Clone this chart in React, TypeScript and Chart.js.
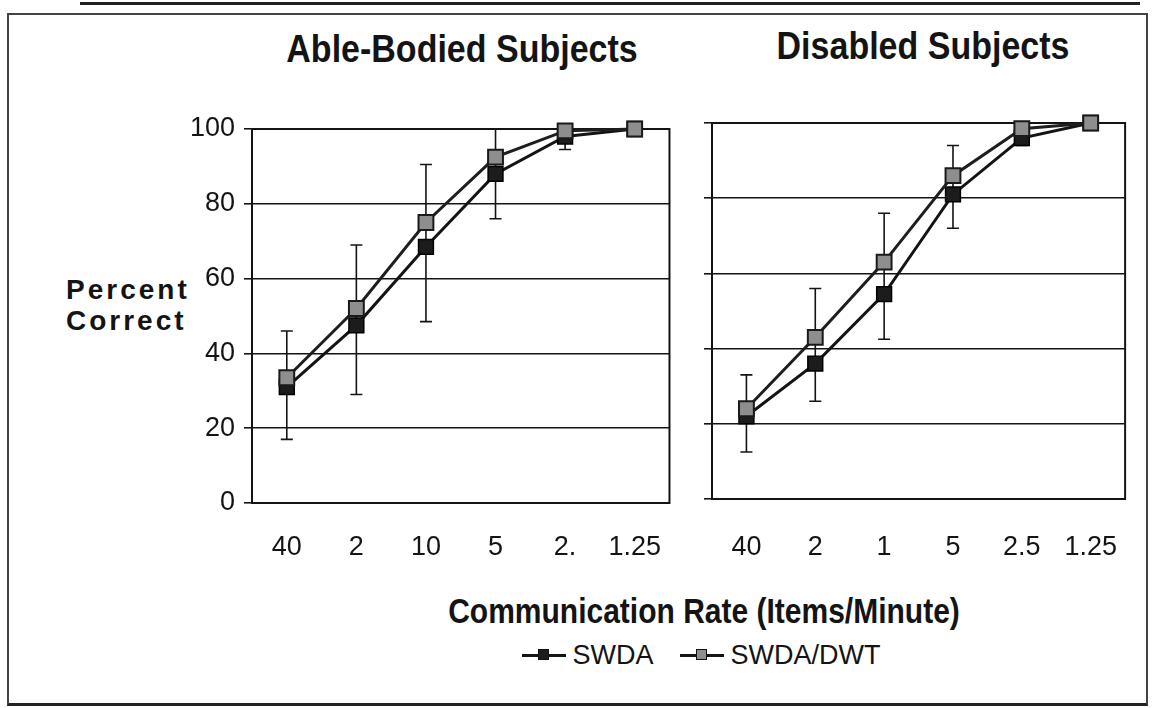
import React, { useEffect, useRef } from "react";
import { Chart, registerables } from "chart.js";
Chart.register(...registerables);

// ---- data ----
const leftCategories = ["40", "2", "10", "5", "2.", "1.25"];
const rightCategories = ["40", "2", "1", "5", "2.5", "1.25"];
const seriesNames = ["SWDA", "SWDA/DWT"];

const ableSWDA = [31, 47.5, 68.5, 88, 98, 100];
const ableSWDADWT = [33.5, 52, 75, 92.5, 99.5, 100];
const ableErrLow = [17, 29, 48.5, 76, 94.5, null];
const ableErrHigh = [46, 69, 90.5, 100, 101, null];

const disSWDA = [22, 36, 54.5, 81, 96, 100];
const disSWDADWT = [24, 43, 63, 86, 98.5, 100];
const disErrLow = [12.5, 26, 42.5, 72, 94, null];
const disErrHigh = [33, 56, 76, 94, 99.5, null];

const FONT = "'Liberation Sans', Arial, sans-serif";
const INK = "#141414";

const errorBarPlugin = {
  id: "errorBars",
  beforeDatasetsDraw(chart: any, _args: any, opts: any) {
    const { low, high } = opts;
    if (!low) return;
    const xs = chart.scales.x;
    const ys = chart.scales.y;
    const ctx = chart.ctx;
    ctx.save();
    ctx.strokeStyle = INK;
    ctx.lineWidth = 1.6;
    low.forEach((lo: number | null, i: number) => {
      const hi = high[i];
      if (lo == null || hi == null) return;
      const px = xs.getPixelForValue(i);
      const y1 = ys.getPixelForValue(lo);
      const y2 = ys.getPixelForValue(hi);
      ctx.beginPath();
      ctx.moveTo(px, y1);
      ctx.lineTo(px, y2);
      ctx.moveTo(px - 6, y1);
      ctx.lineTo(px + 6, y1);
      ctx.moveTo(px - 6, y2);
      ctx.lineTo(px + 6, y2);
      ctx.stroke();
    });
    ctx.restore();
  },
};

const framePlugin = {
  id: "frame",
  beforeDatasetsDraw(chart: any) {
    const { left, top, right, bottom } = chart.chartArea;
    const ctx = chart.ctx;
    ctx.save();
    ctx.strokeStyle = INK;
    ctx.lineWidth = 2;
    ctx.strokeRect(left, top, right - left, bottom - top);
    ctx.restore();
  },
};

type PanelProps = {
  categories: string[];
  swda: number[];
  swdaDwt: number[];
  errLow: (number | null)[];
  errHigh: (number | null)[];
  showYLabels: boolean;
  yAxisWidth: number;
  xAxisHeight: number;
  padTop: number;
  padRight: number;
  xLabelPad: number;
  width: number;
  height: number;
};

function Panel(p: PanelProps) {
  const ref = useRef<HTMLCanvasElement | null>(null);
  useEffect(() => {
    if (!ref.current) return;
    const chart = new Chart(ref.current, {
      type: "line",
      data: {
        labels: p.categories,
        datasets: [
          {
            label: seriesNames[0],
            data: p.swda,
            order: 2,
            borderColor: INK,
            borderWidth: 3,
            pointStyle: "rect",
            pointRadius: 10.5,
            pointBackgroundColor: "#1c1c1c",
            pointBorderColor: "#000",
            pointBorderWidth: 1.5,
            clip: false,
            tension: 0,
          } as any,
          {
            label: seriesNames[1],
            data: p.swdaDwt,
            order: 1,
            borderColor: "#1e1e1e",
            borderWidth: 3,
            pointStyle: "rect",
            pointRadius: 10.5,
            pointBackgroundColor: "#8e8e8e",
            pointBorderColor: "#1a1a1a",
            pointBorderWidth: 2,
            clip: false,
            tension: 0,
          } as any,
        ],
      },
      options: {
        animation: false,
        responsive: false,
        maintainAspectRatio: false,
        layout: { padding: { top: p.padTop, right: p.padRight, left: 0, bottom: 0 } },
        plugins: {
          legend: { display: false },
          tooltip: { enabled: false },
          title: { display: false },
          errorBars: { low: p.errLow, high: p.errHigh },
        } as any,
        scales: {
          x: {
            type: "category",
            offset: true,
            grid: { display: false, drawTicks: false },
            border: { display: true, color: INK, width: 2 },
            ticks: {
              padding: p.xLabelPad,
              color: INK,
              maxRotation: 0,
              autoSkip: false,
              font: { family: FONT, size: 27 },
            },
            afterFit: (s: any) => {
              s.height = p.xAxisHeight;
            },
          },
          y: {
            min: 0,
            max: 100,
            ticks: {
              stepSize: 20,
              display: p.showYLabels,
              padding: 9,
              color: INK,
              font: { family: FONT, size: 27 },
            },
            grid: { color: INK, lineWidth: 1.6, drawTicks: true, tickLength: 8 },
            border: { display: true, color: INK, width: 2 },
            afterFit: (s: any) => {
              s.width = p.yAxisWidth;
            },
          },
        },
      },
      plugins: [framePlugin, errorBarPlugin],
    });
    return () => chart.destroy();
  }, []);
  return <canvas ref={ref} width={p.width} height={p.height} style={{ width: p.width, height: p.height }} />;
}

function LegendItem({ label, fill }: { label: string; fill: string }) {
  return (
    <div style={{ display: "flex", alignItems: "center", marginRight: 26 }}>
      <div style={{ position: "relative", width: 44, height: 14, marginRight: 7 }}>
        <div style={{ position: "absolute", left: 0, top: 6, width: 44, height: 2.5, background: INK }} />
        <div
          style={{
            position: "absolute",
            left: 16,
            top: 1,
            width: 11,
            height: 11,
            background: fill,
            border: "1.5px solid #111",
            boxSizing: "border-box",
          }}
        />
      </div>
      <span>{label}</span>
    </div>
  );
}

export default function App() {
  const abs = (o: any) => ({ position: "absolute", ...o } as React.CSSProperties);
  const tall = { transform: "scaleY(1.14)", transformOrigin: "50% 50%" };
  return (
    <div
      style={{
        position: "absolute",
        left: 0,
        top: 0,
        width: 1159,
        height: 708,
        background: "#fff",
        overflow: "hidden",
        fontFamily: FONT,
        color: INK,
      }}
    >
      <div style={abs({ left: 80, top: 2, width: 1060, height: 3, background: "#222" })} />
      <div
        style={abs({
          left: 7,
          top: 13,
          width: 1141,
          height: 693,
          border: "2px solid #444",
          borderBottom: "3px solid #222",
          boxSizing: "border-box",
        })}
      />
      <div style={abs({ left: 262, top: 28, width: 400, textAlign: "center", fontWeight: "bold", fontSize: 34, lineHeight: "40px", ...tall })}>
        Able-Bodied Subjects
      </div>
      <div style={abs({ left: 723, top: 25, width: 400, textAlign: "center", fontWeight: "bold", fontSize: 34, lineHeight: "40px", ...tall })}>
        Disabled Subjects
      </div>
      <div style={abs({ left: 66, top: 274, fontWeight: "bold", fontSize: 28, lineHeight: "31px", letterSpacing: 3 })}>
        <div>Percent</div>
        <div>Correct</div>
      </div>
      <div style={abs({ left: 140, top: 100 })}>
        <Panel
          categories={leftCategories}
          swda={ableSWDA}
          swdaDwt={ableSWDADWT}
          errLow={ableErrLow}
          errHigh={ableErrHigh}
          showYLabels={true}
          yAxisWidth={112}
          xAxisHeight={67}
          padTop={29}
          padRight={12}
          xLabelPad={28}
          width={550}
          height={470}
        />
      </div>
      <div style={abs({ left: 695, top: 100 })}>
        <Panel
          categories={rightCategories}
          swda={disSWDA}
          swdaDwt={disSWDADWT}
          errLow={disErrLow}
          errHigh={disErrHigh}
          showYLabels={false}
          yAxisWidth={17}
          xAxisHeight={71}
          padTop={23}
          padRight={9}
          xLabelPad={32}
          width={455}
          height={470}
        />
      </div>
      <div style={abs({ left: 304, top: 595, width: 800, textAlign: "center", fontWeight: "bold", fontSize: 30, lineHeight: "34px", ...tall })}>
        Communication Rate (Items/Minute)
      </div>
      <div style={abs({ left: 314, top: 640, width: 800, display: "flex", justifyContent: "center", fontSize: 27, lineHeight: "30px" })}>
        <LegendItem label={seriesNames[0]} fill="#1c1c1c" />
        <LegendItem label={seriesNames[1]} fill="#8e8e8e" />
      </div>
    </div>
  );
}
